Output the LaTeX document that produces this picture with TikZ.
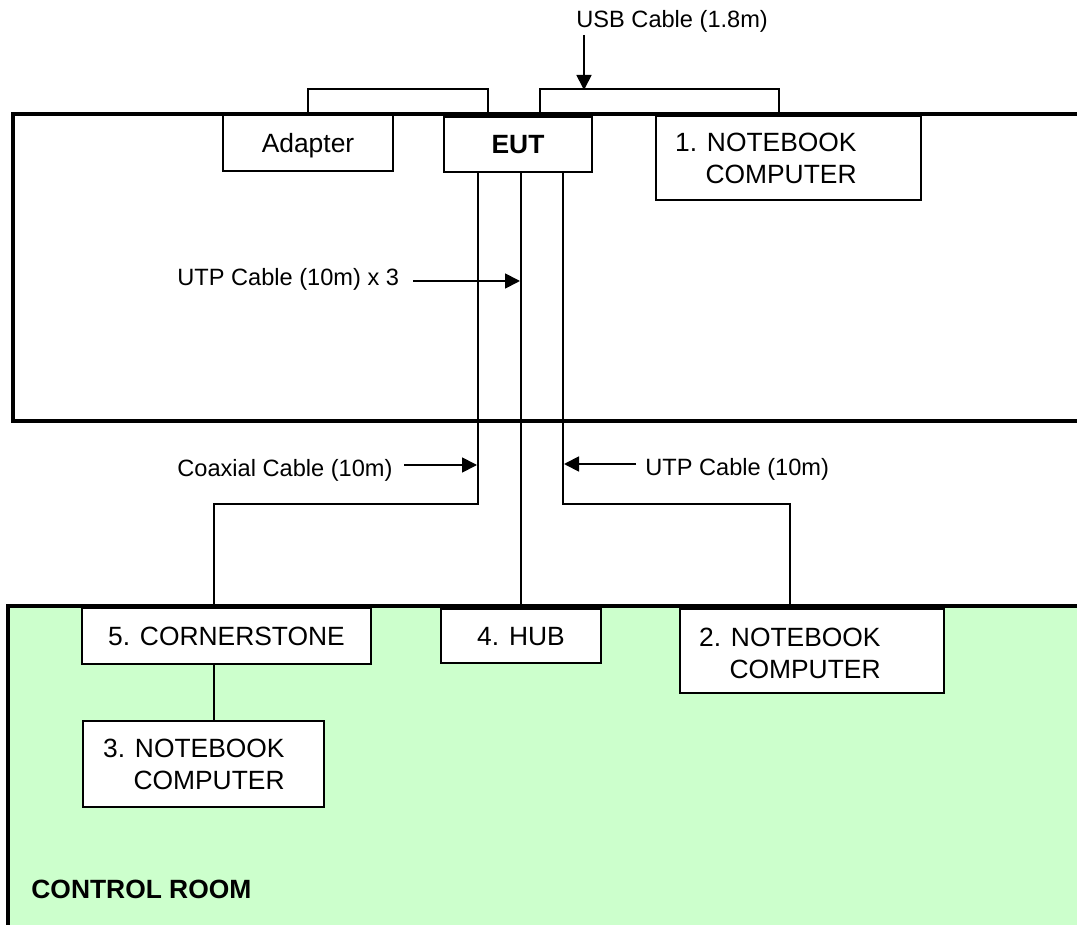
\documentclass[tikz,border=0pt]{standalone}
\usepackage{fontspec}
\setmainfont{Liberation Sans}
\usetikzlibrary{arrows.meta}
\definecolor{roomgreen}{HTML}{CCFFCC}
\newcommand{\bxfont}{\fontsize{13.2pt}{16pt}\selectfont}
\newcommand{\lbfont}{\fontsize{11.8pt}{14pt}\selectfont}
\begin{document}
\begin{tikzpicture}[x=0.5pt,y=-0.5pt,
  box/.style={draw, fill=white, line width=1pt, inner sep=0pt, font=\bxfont, text height=9.5pt, text depth=0pt},
  boxtxt/.style={inner sep=0pt, font=\bxfont, anchor=base east},
  lbl/.style={inner sep=0pt, font=\lbfont, anchor=base west},
  cable/.style={line width=1pt},
  hubcable/.style={line width=1.4pt},
  room/.style={line width=2pt},
  arr/.style={line width=0.9pt, -{Triangle[length=7.5pt,width=7.5pt]}}]
\clip (0,0) rectangle (1077,925);
% rooms
\fill[roomgreen] (8,606) rectangle (1100,940);
\draw[room] (1100,114) -- (13,114) -- (13,421) -- (1100,421);
\draw[room] (1100,606) -- (8,606) -- (8,940);

% boxes
\node[box, minimum width=85pt, minimum height=28pt] (adapter) at (308,143) {Adapter};
\node[box, minimum width=74pt, minimum height=27.5pt, font=\bxfont\bfseries] (eut) at (518,144.5) {EUT};
\node[box, minimum width=132.5pt, minimum height=42pt] (nb1) at (788.5,158) {};
\node[box, minimum width=144.5pt, minimum height=28pt] (corner) at (226.5,636) {5. CORNERSTONE};
\node[box, minimum width=80pt, minimum height=27pt] (hub) at (521,636) {4. HUB};
\node[box, minimum width=132pt, minimum height=42pt] (nb2) at (812,651) {};
\node[box, minimum width=120.5pt, minimum height=43pt] (nb3) at (203.5,764) {};

% two-line box texts
\node[boxtxt] (nb1a) at (857,152) {1. NOTEBOOK};
\node[boxtxt] (nb1b) at (857,184) {COMPUTER};
\node[boxtxt] (nb2a) at (881,646) {2. NOTEBOOK};
\node[boxtxt] (nb2b) at (881,678) {COMPUTER};
\node[boxtxt] (nb3a) at (285,757) {3. NOTEBOOK};
\node[boxtxt] (nb3b) at (285,789) {COMPUTER};

\node[inner sep=0pt, font=\bxfont\bfseries, anchor=base west] (ctrl) at (31,898) {CONTROL ROOM};

% cables
\draw[cable] (adapter.north) -- ++(0,-25) -| ([xshift=-15pt]eut.north);
\draw[cable] ([xshift=11pt]eut.north) -- ++(0,-27) -| ([xshift=-4.75pt]nb1.north);
\draw[cable] ([xshift=-20pt]eut.south) -- ++(0,331) -| ([xshift=-6.25pt]corner.north);
\draw[hubcable] (hub.north |- eut.south) -- (hub.north);
\draw[cable] ([xshift=22.5pt]eut.south) -- ++(0,331) -| ([xshift=-11pt]nb2.north);
\draw[cable] ([xshift=-6.25pt]corner.south) -- ([xshift=-6.25pt]corner.south |- nb3.north);

% labels and arrows
\node[lbl] (usb) at (576,28) {USB Cable (1.8m)};
\coordinate (usbs) at (584,35);
\coordinate (usbe) at (584,90);
\draw[arr] (usbs) -- (usbe);

\node[lbl] (utp3) at (177,286) {UTP Cable (10m) x 3};
\coordinate (utp3s) at (413,281);
\coordinate (utp3e) at (520,281);
\draw[arr] (utp3s) -- (utp3e);

\node[lbl] (coax) at (177,476) {Coaxial Cable (10m)};
\coordinate (coaxs) at (404,465);
\coordinate (coaxe) at (477,465);
\draw[arr] (coaxs) -- (coaxe);

\node[lbl] (utp1) at (645,475) {UTP Cable (10m)};
\coordinate (utp1s) at (636,464);
\coordinate (utp1e) at (564,464);
\draw[arr] (utp1s) -- (utp1e);
\end{tikzpicture}
\end{document}
